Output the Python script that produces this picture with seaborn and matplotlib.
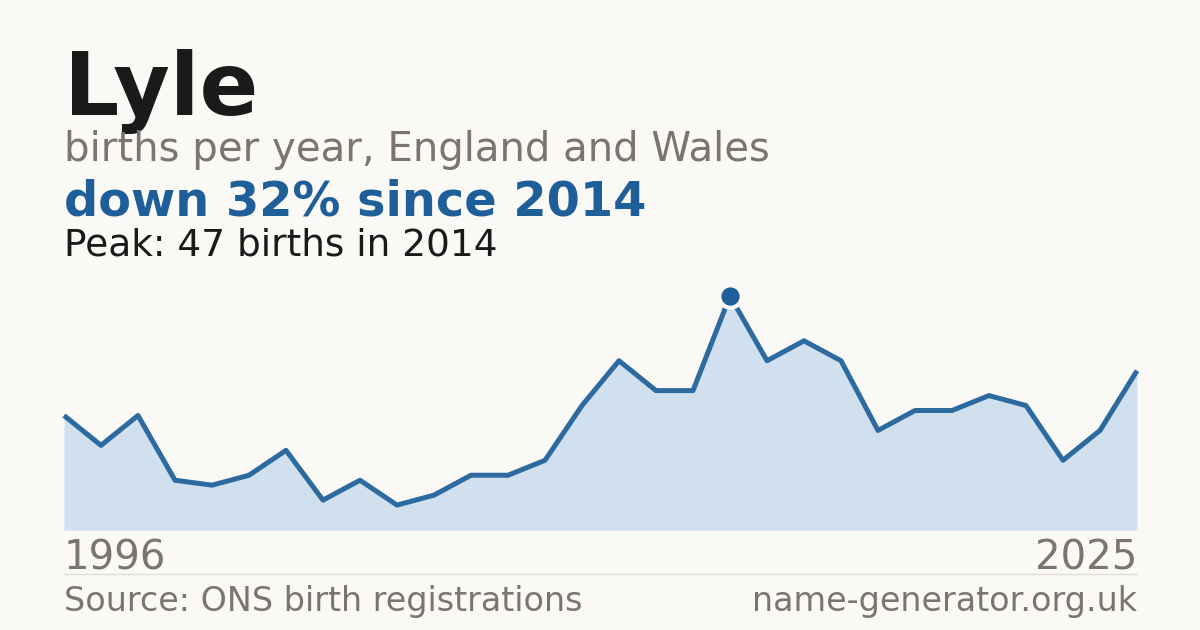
import numpy as np
import pandas as pd
import matplotlib
matplotlib.use("Agg")
import matplotlib.pyplot as plt
import seaborn as sns

# =====================================
# Data
# =====================================
years = list(range(1996, 2026))
births = [23, 17, 23, 10, 9, 11, 16, 6, 10, 5, 7, 11, 11, 14, 25,
          34, 28, 28, 47, 34, 38, 34, 20, 24, 24, 27, 25, 14, 20, 32]

name = "Lyle"
subtitle = "births per year, England and Wales"
change_text = "down 32% since 2014"
peak_text = "Peak: 47 births in 2014"
source_text = "Source: ONS birth registrations"
site_text = "name-generator.org.uk"

df = pd.DataFrame({"year": years, "births": births})

# colours
bg = "#faf9f5"
ink = "#1a1a1a"
grey = "#7a756e"
blue = "#1f5f99"
fill = "#d0e0ef"

sns.set_theme(style="white")
plt.rcParams['font.family'] = ['DejaVu Sans']

W, H = 1200, 630
fig = plt.figure(figsize=(12, 6.3), dpi=100, facecolor=bg)

# plot area: x 64..1137, y 530 (zero) .. 296 (peak)
ax = fig.add_axes([64 / W, 1 - 530 / H, (1137 - 64) / W, (530 - 296) / H])
ax.set_facecolor("none")

ax.fill_between(df["year"], df["births"], 0, color=fill, linewidth=0, zorder=1)
sns.lineplot(data=df, x="year", y="births", ax=ax, color="#2d6a9f",
             linewidth=3.6, zorder=2, clip_on=False)
ax.lines[-1].set_solid_capstyle("butt")

peak_idx = int(np.argmax(births))
ax.scatter([years[peak_idx]], [births[peak_idx]], s=260, color=blue,
           edgecolor=bg, linewidth=3, zorder=3, clip_on=False)

ax.set_xlim(years[0], years[-1])
ax.set_ylim(0, max(births))
ax.axis("off")

# =====================================
# Text
# =====================================
def fy(px):
    return 1 - px / H

x0 = 64 / W
fig.text(x0, fy(115), name, fontsize=62.5, fontweight="bold", color=ink, va="baseline")
fig.text(x0, fy(161), subtitle, fontsize=29, color=grey, va="baseline")
fig.text(x0, fy(216), change_text, fontsize=34.5, fontweight="bold", color=blue, va="baseline")
fig.text(x0, fy(255), peak_text, fontsize=27, color=ink, va="baseline")

fig.text(x0, fy(570), str(years[0]), fontsize=29, color=grey, va="baseline")
fig.text(1137 / W, fy(570), str(years[-1]), fontsize=29, color=grey, va="baseline", ha="right")

fig.add_artist(plt.Line2D([x0, 1137 / W], [fy(574), fy(574)], color="#e0ddd6", linewidth=1))

fig.text(x0, fy(611), source_text, fontsize=24, color=grey, va="baseline")
fig.text(1137 / W, fy(611), site_text, fontsize=24, color=grey, va="baseline", ha="right")

fig.savefig("out.png", dpi=100, facecolor=bg)
